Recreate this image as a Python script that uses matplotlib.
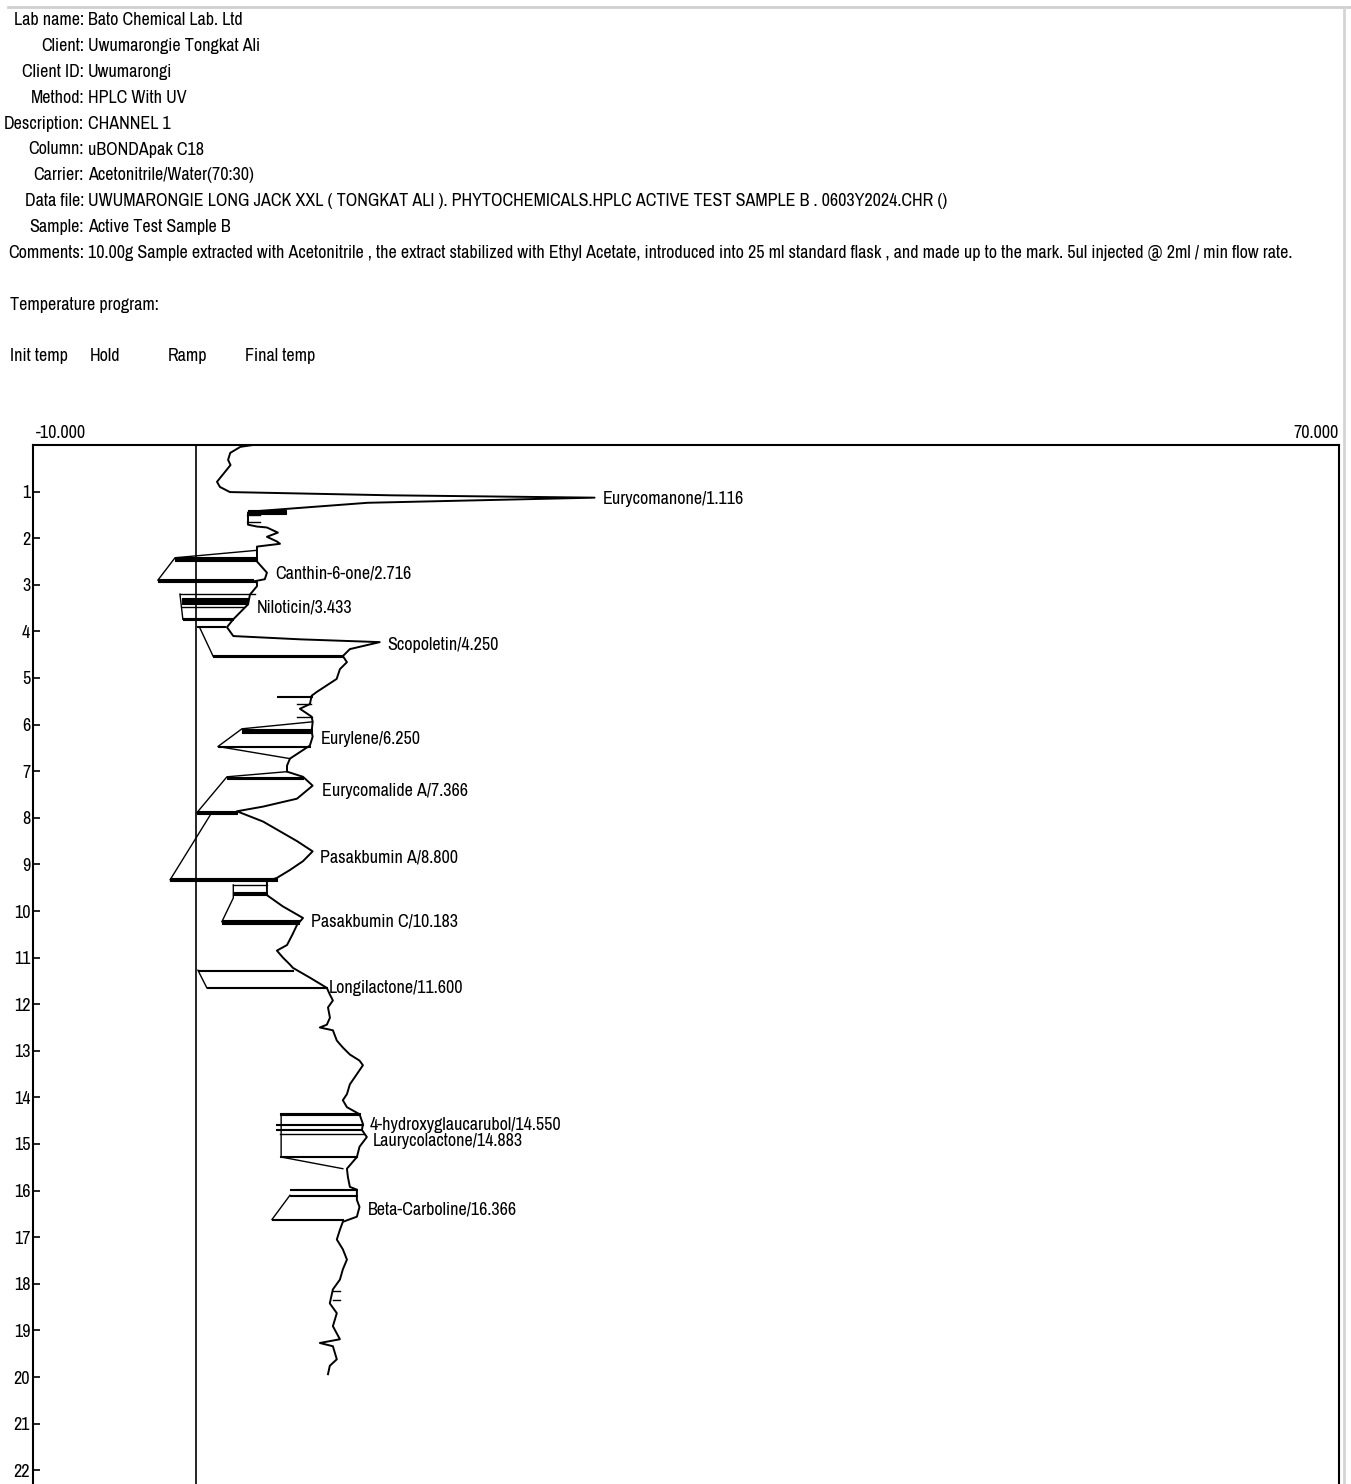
import matplotlib.pyplot as plt

plt.rcParams['font.family'] = ['Archivo Narrow', 'Roboto Condensed', 'DejaVu Sans']

# header block
header_keys = ['Lab name:', 'Client:', 'Client ID:', 'Method:', 'Description:', 'Column:',
               'Carrier:', 'Data file:', 'Sample:', 'Comments:']
header_vals = ['Bato Chemical Lab. Ltd', 'Uwumarongie Tongkat Ali', 'Uwumarongi', 'HPLC With UV',
               'CHANNEL 1', 'uBONDApak C18', 'Acetonitrile/Water(70:30)',
               'UWUMARONGIE LONG JACK XXL ( TONGKAT ALI ). PHYTOCHEMICALS.HPLC ACTIVE TEST SAMPLE B . 0603Y2024.CHR ()',
               'Active Test Sample B',
               '10.00g Sample extracted with Acetonitrile , the extract stabilized with Ethyl Acetate, '
               'introduced into 25 ml standard flask , and made up to the mark. 5ul injected @ 2ml / min flow rate.']
temp_cols = ['Init temp', 'Hold', 'Ramp', 'Final temp']

# detector trace: retention time (min) and signal
sig_t = [0.00, 0.04, 0.17, 0.32, 0.43, 0.79, 0.90, 1.01, 1.08, 1.13, 1.24, 1.43, 1.45, 1.71, 1.75,
         1.77, 1.88, 1.97, 2.07, 2.12, 2.18, 2.26, 2.50, 2.74, 2.88, 2.93, 2.95, 3.03, 3.21, 3.42,
         3.74, 3.91, 4.10, 4.17, 4.23, 4.38, 4.53, 4.66, 4.81, 5.02, 5.30, 5.38, 5.56, 5.66, 5.83,
         5.94, 6.15, 6.26, 6.45, 6.73, 6.88, 7.01, 7.12, 7.31, 7.59, 7.76, 7.86, 8.08, 8.29, 8.50,
         8.72, 8.93, 9.12, 9.29, 9.36, 9.66, 9.90, 10.15, 10.30, 10.50, 10.73, 10.85, 11.00, 11.15,
         11.22, 11.43, 11.65, 11.79, 11.92, 12.07, 12.29, 12.44, 12.50, 12.56, 12.78, 12.93, 13.08,
         13.21, 13.31, 13.50, 13.72, 13.93, 14.06, 14.21, 14.36, 14.57, 14.70, 14.85, 15.06, 15.28,
         15.53, 15.71, 15.92, 15.98, 16.20, 16.35, 16.56, 16.67, 16.84, 17.05, 17.26, 17.48, 17.69,
         17.91, 18.12, 18.42, 18.63, 18.91, 19.19, 19.27, 19.34, 19.62, 19.76, 19.94]
sig_x = [3.47, 2.70, 2.08, 1.95, 2.10, 1.27, 1.45, 2.06, 12.0, 24.4, 10.5, 3.29, 3.17, 3.17, 3.72,
         4.33, 5.00, 4.33, 4.94, 5.13, 3.72, 3.72, 3.72, 4.33, 4.20, 3.47, 3.72, 3.72, 3.29, 3.17,
         2.27, 1.88, 2.27, 6.35, 11.24, 9.41, 8.98, 9.23, 8.80, 8.60, 7.38, 7.07, 6.96, 6.35, 7.07,
         7.13, 7.07, 7.13, 6.96, 5.74, 5.56, 5.56, 6.54, 7.13, 6.17, 4.09, 2.49, 4.09, 5.13, 6.17,
         7.13, 6.54, 5.74, 4.94, 4.33, 4.33, 5.30, 6.54, 6.17, 5.90, 5.56, 4.94, 5.31, 5.74,
         5.92, 6.96, 8.00, 8.18, 8.37, 8.07, 8.19, 8.00, 7.57, 8.37, 8.61, 8.98, 9.41,
         10.00, 10.21, 9.84, 9.41, 9.23, 8.98, 9.23, 10.00, 10.21, 10.15, 10.45, 10.00, 9.84,
         9.23, 9.29, 9.41, 9.84, 9.84, 10.00, 9.84, 8.98, 8.80, 8.61, 8.98, 9.23, 8.98,
         8.80, 8.37, 8.18, 8.61, 8.37, 8.80, 7.57, 8.37, 8.61, 8.18, 8.07]

# peak table
peak_names = ['Eurycomanone', 'Canthin-6-one', 'Niloticin', 'Scopoletin', 'Eurylene', 'Eurycomalide A',
              'Pasakbumin A', 'Pasakbumin C', 'Longilactone', '4-hydroxyglaucarubol', 'Laurycolactone',
              'Beta-Carboline']
peak_rt = [1.116, 2.716, 3.433, 4.250, 6.250, 7.366, 8.800, 10.183, 11.600, 14.550, 14.883, 16.366]
peak_apex = [24.4, 4.3, 3.2, 11.2, 7.1, 7.2, 7.1, 6.5, 7.6, 10.1, 10.3, 10.0]

# integration baselines (time, signal) per peak
base_t = [[2.26, 2.42, 2.90], [3.20, 3.74], [3.91, 4.53], [5.94, 6.09, 6.47, 6.73],
          [7.01, 7.12, 7.89], [7.95, 9.33], [9.44, 9.72, 10.23], [11.27, 11.65],
          [14.36, 15.28, 15.53], [16.10, 16.62]]
base_x = [[3.72, -1.30, -2.35], [-1.00, -0.82], [0.20, 1.03], [7.13, 2.80, 1.33, 5.74],
          [5.56, 1.88, 0.04], [0.84, -1.60], [2.27, 2.27, 1.57], [0.10, 0.65],
          [5.20, 5.20, 8.98], [5.74, 4.64]]

# area fill strokes: time from, time to, signal from, signal to
fill_t0 = [1.40, 1.50, 1.65, 2.40, 2.88, 3.20, 3.28, 3.48, 3.72, 3.88, 4.50, 5.38, 5.56, 5.83,
           6.09, 6.45, 7.12, 7.86, 9.29, 9.44, 9.60, 10.19, 11.26, 11.63, 14.34, 14.57, 14.68,
           14.79, 15.26, 15.96, 16.09, 16.60, 18.15, 18.35]
fill_t1 = [1.48, 1.50, 1.65, 2.48, 2.95, 3.20, 3.42, 3.48, 3.76, 3.91, 4.55, 5.40, 5.56, 5.83,
           6.17, 6.47, 7.17, 7.92, 9.36, 9.44, 9.66, 10.27, 11.28, 11.66, 14.38, 14.59, 14.71,
           14.79, 15.28, 15.98, 16.11, 16.64, 18.15, 18.35]
fill_x0 = [3.2, 3.1, 3.1, -1.3, -2.35, -1.0, -0.9, -0.85, -0.82, 0.04, 1.03, 4.94, 6.2, 6.2,
           2.8, 1.33, 1.88, 0.04, -1.6, 2.27, 2.27, 1.57, 0.10, 0.65, 5.1, 4.9, 4.9,
           5.1, 5.1, 5.74, 5.74, 4.64, 8.4, 8.4]
fill_x1 = [5.5, 3.9, 3.9, 3.72, 3.5, 3.6, 3.2, 2.9, 2.27, 1.76, 8.98, 7.07, 7.0, 7.07,
           7.07, 6.96, 6.54, 2.49, 4.94, 4.33, 4.33, 6.3, 5.92, 8.0, 10.0, 10.2, 10.15,
           10.3, 9.84, 9.84, 9.84, 8.98, 8.8, 8.8]

W, H = 1351, 1484
fig = plt.figure(figsize=(W / 100, H / 100), dpi=100)

def px(x, y):
    return x / W, 1 - y / H

fs = 13
for i, (k, v) in enumerate(zip(header_keys, header_vals)):
    y = 20 + 25.9 * i
    fig.text(*px(84, y), k, ha='right', va='center', fontsize=fs)
    fig.text(*px(88, y), v, ha='left', va='center', fontsize=fs)
fig.text(*px(10, 305), 'Temperature program:', ha='left', va='center', fontsize=fs)
for xx, s in zip([10, 90, 168, 245], temp_cols):
    fig.text(*px(xx, 356), s, ha='left', va='center', fontsize=fs)

# window frame lines
fig.add_artist(plt.Line2D([8 / W, 1], [1 - 7 / H, 1 - 7 / H], color='#cfcfcf', lw=2))
fig.add_artist(plt.Line2D([1344 / W, 1344 / W], [0, 1 - 7 / H], color='#d5d5d5', lw=2))

top = 445
axh = 24 * 46.6
ax = fig.add_axes([33 / W, 1 - (top + axh) / H, 1306 / W, axh / H])
ax.set_xlim(-10, 70)
ax.set_ylim(24, 0)
for s in ax.spines.values():
    s.set_linewidth(1.5)
ax.set_xticks([])
ax.set_yticks(range(1, 23))
ax.tick_params(axis='y', direction='in', length=5, width=1.2, pad=2, labelsize=fs)
ax.text(0.002, 1.004, '-10.000', transform=ax.transAxes, ha='left', va='bottom', fontsize=fs)
ax.text(1.0, 1.004, '70.000', transform=ax.transAxes, ha='right', va='bottom', fontsize=fs)
ax.axvline(0, color='black', lw=1.2)

# filled area strokes
for t0, t1, x0, x1 in zip(fill_t0, fill_t1, fill_x0, fill_x1):
    if t1 > t0:
        ax.fill_betweenx([t0, t1], [x0, x0], [x1, x1], color='black', lw=0.8)
    else:
        ax.plot([x0, x1], [t0, t0], color='black', lw=1.0)

for bt, bx in zip(base_t, base_x):
    ax.plot(bx, bt, color='black', lw=1.0)

ax.plot(sig_x, sig_t, color='black', lw=1.4)

for name, rt, apex in zip(peak_names, peak_rt, peak_apex):
    ax.annotate(f'{name}/{rt:.3f}', (apex, rt + 0.05), xytext=(6, 0), textcoords='offset points',
                ha='left', va='center', fontsize=fs)

fig.savefig('out.png', dpi=100)
